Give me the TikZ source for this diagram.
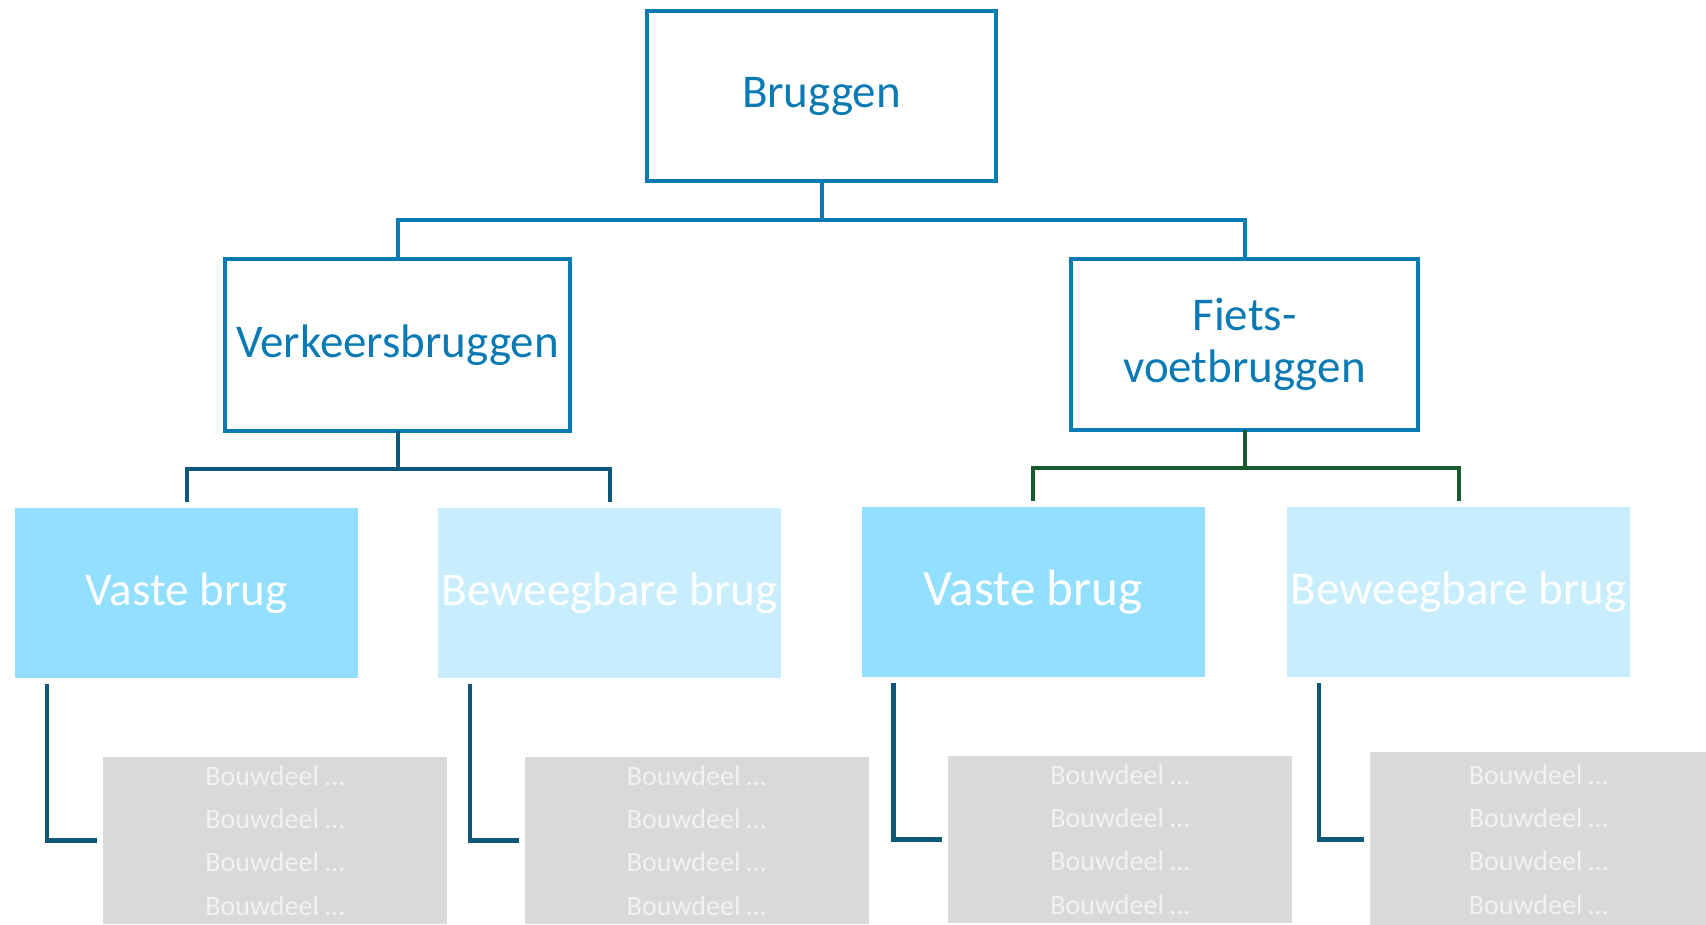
\documentclass[tikz,border=0pt]{standalone}
\usepackage{fontspec}
\setmainfont{Carlito}
\usetikzlibrary{positioning}
\definecolor{brugblauw}{RGB}{10,122,180}
\definecolor{donkerblauw}{RGB}{13,88,120}
\definecolor{donkergroen}{RGB}{22,90,45}
\definecolor{vastblauw}{RGB}{147,223,255}
\definecolor{beweegblauw}{RGB}{200,237,253}
\definecolor{deelgrijs}{RGB}{217,217,217}
\definecolor{deeltekst}{RGB}{242,242,242}
\tikzset{
  basic/.style  = {rectangle, align=center, inner sep=0pt, outer sep=0pt},
  hoofd/.style  = {basic, draw=brugblauw, line width=4pt, text=brugblauw,
                   minimum width=349pt, minimum height=170pt,
                   font=\fontsize{47}{52}\selectfont},
  soort/.style  = {basic, text=white, minimum width=343pt, minimum height=170pt,
                   font=\fontsize{47}{52}\selectfont},
  vast/.style   = {soort, fill=vastblauw},
  beweeg/.style = {soort, fill=beweegblauw},
  deel/.style   = {basic, fill=deelgrijs, text=deeltekst, minimum width=344pt,
                   minimum height=167pt, font=\fontsize{28}{43.3}\selectfont},
  tak/.style    = {line width=4pt},
  haak/.style   = {line width=4.5pt, draw=donkerblauw}
}

\begin{document}
\begin{tikzpicture}
\useasboundingbox (0,0) rectangle (1706pt,-924pt);

% top of the tree
\node[hoofd] (bruggen) at (821.5pt,-96pt) {Bruggen};

% first level
\node[hoofd, minimum width=345pt, minimum height=172pt, below=78pt of bruggen, xshift=-424pt] (b1) {Verkeersbruggen};
\node[hoofd, minimum width=347pt, minimum height=171pt, below=78pt of bruggen, xshift=423pt] (b2) {Fiets-\\voetbruggen};

% second level
\node[vast, below=77pt of b1, xshift=-211pt] (t1) {Vaste brug};
\node[beweeg, below=77pt of b1, xshift=212pt] (t2) {Beweegbare brug};
\node[vast, below=77pt of b2, xshift=-211.5pt, font=\fontsize{51}{56}\selectfont] (t3) {Vaste brug};
\node[beweeg, below=77pt of b2, xshift=214pt] (t4) {Beweegbare brug};

% parts
\node[deel, below=79pt of t1, xshift=88.5pt] (d1) {Bouwdeel …\\Bouwdeel …\\Bouwdeel …\\Bouwdeel …};
\node[deel, below=79pt of t2, xshift=87pt] (d2) {Bouwdeel …\\Bouwdeel …\\Bouwdeel …\\Bouwdeel …};
\node[deel, below=79pt of t3, xshift=87pt] (d3) {Bouwdeel …\\Bouwdeel …\\Bouwdeel …\\Bouwdeel …};
\node[deel, below=75pt of t4, xshift=80pt, minimum width=338pt, minimum height=175pt] (d4) {Bouwdeel …\\Bouwdeel …\\Bouwdeel …\\Bouwdeel …};

\foreach \value in {1,2}
  \draw[tak, draw=brugblauw] (bruggen.south) -- ++(0,-39pt) -| (b\value.north);
\foreach \value in {1,2}
  \draw[tak, draw=donkerblauw, shorten >=6pt] (b1.south) -- ++(0,-38pt) -| (t\value.north);
\foreach \value in {3,4}
  \draw[tak, draw=donkergroen, shorten >=6pt] (b2.south) -- ++(0,-38pt) -| (t\value.north);
\foreach \value in {1,...,4}
  \draw[haak] ([xshift=32pt,yshift=-6pt]t\value.south west) |- ([xshift=-6pt]d\value.west);
\end{tikzpicture}
\end{document}
